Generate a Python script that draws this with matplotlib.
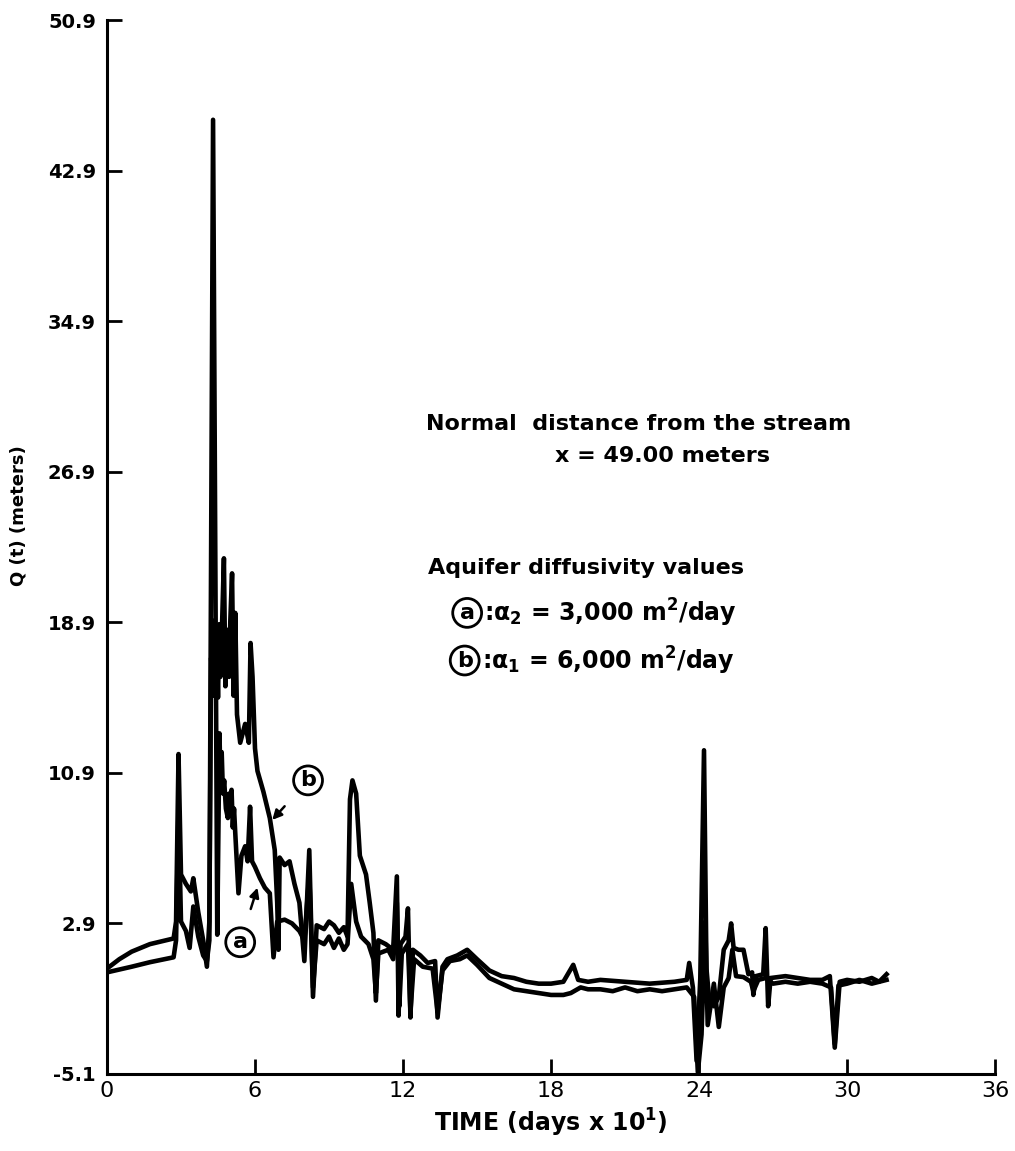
import matplotlib
matplotlib.use("Agg")
import matplotlib.pyplot as plt

# time in units of 10 days, Q(t) in meters
time_a = [0.0, 0.5, 1.0, 1.74, 2.7, 2.8, 2.9, 3.0, 3.2, 3.35, 3.5, 3.7, 3.9, 4.05, 4.15,
          4.30, 4.47, 4.56, 4.6, 4.65, 4.7, 4.75, 4.82, 4.9, 4.95, 5.0, 5.05, 5.1, 5.15, 5.2,
          5.33, 5.45, 5.6, 5.7, 5.8, 5.88,
          6.0, 6.2, 6.4, 6.6, 6.75, 6.9, 7.2, 7.5, 7.8, 8.0, 8.2, 8.35, 8.5, 8.8, 9.0, 9.2,
          9.4, 9.6, 9.75, 9.9, 10.1, 10.3, 10.6, 10.8, 10.9, 11.0, 11.4, 11.6, 11.75, 11.85,
          11.95, 12.2, 12.3, 12.45, 12.8, 13.2, 13.4, 13.6, 13.9, 14.3, 14.6, 15.0, 15.5,
          16.0, 16.5, 17.0, 17.5, 18.0, 18.5, 18.8, 19.2, 19.5, 20.0, 20.5, 21.0, 21.5, 22.0,
          22.5, 23.0, 23.5, 23.8, 23.95, 24.1, 24.25, 24.35, 24.6, 24.8, 25.0, 25.2, 25.35,
          25.5, 25.8, 26.1, 26.2, 26.4, 26.7, 27.0, 27.5, 28.0, 28.5, 29.0, 29.35, 29.5,
          29.65, 30.0, 30.5, 31.0, 31.6]
q_a = [0.3, 0.45, 0.6, 0.84, 1.1, 2.0, 9.0, 3.0, 2.5, 1.6, 3.8, 2.2, 1.2, 0.9, 2.0,
       45.6, 2.3, 13.0, 10.5, 12.0, 9.8, 10.5, 9.0, 8.5, 9.8, 9.2, 10.0, 8.0, 9.0, 7.7,
       4.5, 6.5, 7.0, 6.2, 9.1, 6.2,
       5.9, 5.3, 4.8, 4.5, 1.1, 3.0, 3.1, 2.9, 2.5, 2.0, 5.5, -0.5, 2.0, 1.8, 2.2, 1.6,
       2.1, 1.5, 1.8, 5.0, 3.0, 2.2, 1.8, 1.0, -0.8, 1.3, 1.5, 1.0, 4.0, -1.5,
       1.3, 1.8, -1.8, 1.0, 0.6, 0.5, -1.8, 0.4, 0.9, 1.0, 1.2, 0.7, 0.0,
       -0.3, -0.6, -0.7, -0.8, -0.9, -0.9, -0.8, -0.5, -0.6, -0.6, -0.7, -0.5, -0.7, -0.6,
       -0.7, -0.6, -0.5, -1.0, -5.0, -3.0, 3.0, -2.5, -0.3, -2.6, -0.5, 0.0, 1.5,
       0.1, 0.05, -0.2, -0.7, -0.1, 0.0, -0.3, -0.2, -0.3, -0.2, -0.3, -0.5, -3.5,
       -0.4, -0.3, -0.1, -0.3, -0.1]

time_b = [0.0, 0.5, 1.0, 1.74, 2.7, 2.8, 2.9, 3.0, 3.2, 3.4, 3.5, 3.7, 3.9, 4.05, 4.15,
          4.22, 4.3, 4.35, 4.4, 4.45, 4.5, 4.55, 4.6, 4.67, 4.74, 4.8, 4.87, 4.95, 5.0, 5.07,
          5.13, 5.2, 5.27, 5.4, 5.6, 5.75,
          5.82, 5.9, 6.0, 6.1, 6.34, 6.6, 6.8, 6.9, 6.95, 7.0, 7.2, 7.4, 7.6, 7.8, 8.0, 8.2,
          8.35, 8.5, 8.8, 9.0, 9.2, 9.4, 9.6, 9.75, 9.85, 9.95, 10.1, 10.25, 10.5, 10.65,
          10.8, 10.9, 11.0, 11.3, 11.6, 11.75, 11.82, 11.9, 12.1, 12.2, 12.3, 12.4, 12.7,
          13.0, 13.3, 13.4, 13.6, 13.8, 14.2, 14.6, 15.0, 15.5, 16.0, 16.5, 17.0, 17.5,
          18.0, 18.5, 18.9, 19.1, 19.5, 20.0, 21.0, 22.0, 23.0, 23.5, 23.6, 23.75, 23.9,
          24.05, 24.2, 24.3, 24.4, 24.6, 24.8, 25.0, 25.2, 25.3, 25.4, 25.6, 25.8, 26.0,
          26.15, 26.2, 26.3, 26.6, 26.7, 26.8, 26.9, 27.5, 28.0, 28.5, 29.0, 29.3, 29.5,
          29.7, 30.0, 30.5, 31.0, 31.3, 31.6]
q_b = [0.5, 1.0, 1.4, 1.8, 2.1, 3.0, 11.9, 5.5, 5.0, 4.6, 5.3, 3.5, 2.0, 0.6, 3.0,
       17.0, 15.0, 19.0, 15.5, 18.0, 14.9, 18.8, 16.0, 19.0, 22.3, 15.5, 18.5, 16.0, 19.0, 21.5,
       15.0, 19.4, 14.0, 12.5, 13.5, 12.5,
       17.8, 16.0, 12.2, 11.0, 9.9, 8.5, 6.8, 4.0, 1.5, 6.4, 6.0, 6.2, 5.0, 4.0, 0.9, 6.8,
       -1.0, 2.8, 2.6, 3.0, 2.8, 2.4, 2.7, 2.2, 9.5, 10.5, 9.8, 6.5, 5.5, 4.0,
       2.4, -1.2, 2.0, 1.8, 1.5, 5.4, -2.0, 1.8, 2.2, 3.7, -2.1, 1.5, 1.2,
       0.8, 0.9, -2.1, 0.6, 1.0, 1.2, 1.5, 1.0, 0.4, 0.1, 0.0, -0.2, -0.3,
       -0.3, -0.2, 0.7, -0.1, -0.2, -0.1, -0.2, -0.3, -0.2, -0.1, 0.8, -0.5, -4.4,
       0.0, 12.1, 0.5, -1.0, -1.5, -1.0, 1.5, 2.0, 2.9, 1.6, 1.5, 1.5, 0.2,
       0.3, -0.9, 0.1, 0.2, 2.65, -1.5, 0.0, 0.1, 0.0, -0.1, -0.1, 0.1, -3.7,
       -0.2, -0.1, -0.2, 0.0, -0.2, 0.2]

x_ticks = [0, 6, 12, 18, 24, 30, 36]
y_ticks = [-5.1, 2.9, 10.9, 18.9, 26.9, 34.9, 42.9, 50.9]
y_labels = ["-5.1", "2.9", "10.9", "18.9", "26.9", "34.9", "42.9", "50.9"]

plt.rcParams['font.family'] = ['DejaVu Sans']
plt.rcParams['mathtext.default'] = 'bf'

fig = plt.figure(figsize=(10.15, 11.51), dpi=100)
ax = fig.add_axes([0.1054, 0.0669, 0.875, 0.9157])

ax.plot(time_a, q_a, color='black', lw=3.3, solid_joinstyle='round')
ax.plot(time_b, q_b, color='black', lw=3.3, solid_joinstyle='round')

ax.set_xlim(0, 36)
ax.set_ylim(-5.1, 50.9)
ax.set_xticks(x_ticks)
ax.set_xticklabels([str(v) for v in x_ticks], fontsize=16)
ax.set_yticks(y_ticks)
ax.set_yticklabels(y_labels, fontsize=14, fontweight='bold')
ax.tick_params(direction='in', length=11, width=2)
ax.tick_params(axis='x', pad=5)
ax.tick_params(axis='y', pad=8)
for side in ['top', 'right']:
    ax.spines[side].set_visible(False)
for side in ['left', 'bottom']:
    ax.spines[side].set_linewidth(2.2)

ax.set_xlabel("TIME (days x 10$^{1}$)", fontsize=17, fontweight='bold', labelpad=4)
ax.set_ylabel("Q (t) (meters)", fontsize=13, fontweight='bold')
ax.yaxis.set_label_coords(-0.09, 0.53)

txt = dict(fontsize=16, fontweight='bold', color='black')
ax.text(21.56, 29.45, "Normal  distance from the stream", ha='center', va='center', **txt)
ax.text(22.5, 27.75, "x = 49.00 meters", ha='center', va='center', **txt)
ax.text(19.4, 21.76, "Aquifer diffusivity values", ha='center', va='center', **txt)

circ = dict(boxstyle='circle,pad=0.2', fc='white', ec='black', lw=2)
ax.text(14.6, 19.4, "a", ha='center', va='center', fontsize=16, fontweight='bold', bbox=circ)
ax.text(15.3, 19.4, ":α$_2$ = 3,000 m$^2$/day", ha='left', va='center', fontsize=17, fontweight='bold')
ax.text(14.5, 16.87, "b", ha='center', va='center', fontsize=16, fontweight='bold', bbox=circ)
ax.text(15.2, 16.87, ":α$_1$ = 6,000 m$^2$/day", ha='left', va='center', fontsize=17, fontweight='bold')

# labels pointing at the curves
arrow = dict(arrowstyle='-|>', color='black', lw=1.8, mutation_scale=14, shrinkA=14, shrinkB=0)
ax.annotate("b", xy=(6.7, 8.4), xytext=(8.15, 10.5), ha='center', va='center',
            fontsize=16, fontweight='bold', bbox=circ, arrowprops=arrow)
ax.annotate("a", xy=(6.1, 4.8), xytext=(5.4, 1.9), ha='center', va='center',
            fontsize=16, fontweight='bold', bbox=circ, arrowprops=arrow)

fig.savefig("out.png", dpi=100, facecolor='white')
